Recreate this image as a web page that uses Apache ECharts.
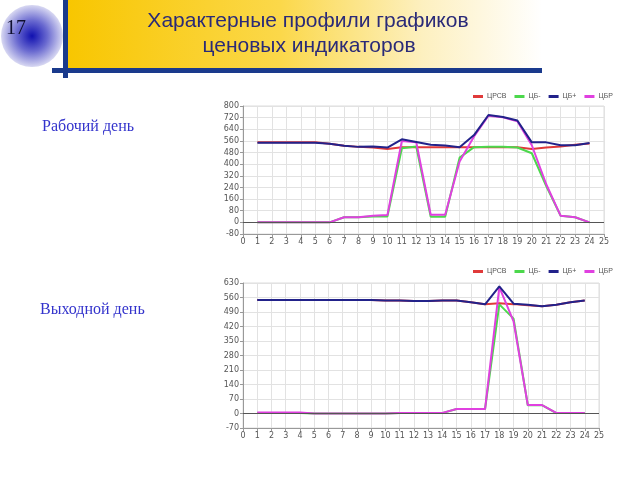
<!DOCTYPE html>
<html><head><meta charset="utf-8">
<script src="https://cdn.jsdelivr.net/npm/echarts@6/dist/echarts.min.js"></script>
<style>html,body{margin:0;padding:0;background:#fff}#c{width:640px;height:480px}</style>
</head><body><div id="c"></div>
<script>
const hours = [1,2,3,4,5,6,7,8,9,10,11,12,13,14,15,16,17,18,19,20,21,22,23,24];
const seriesNames = ['ЦРСВ','ЦБ-','ЦБ+','ЦБР'];
const seriesColors = ['#e03a3a','#4cd84c','#22228a','#e040e0'];
// Workday (Рабочий день)
const workCRSV = [550,550,550,550,550,540,526,519,515,505,517,517,517,517,517,517,517,517,517,505,514,521,533,542];
const workCBminus = [0,0,0,0,0,0,35,35,40,40,510,521,39,39,445,517,520,520,515,475,250,45,35,0];
const workCBplus = [548,548,548,548,548,540,526,519,522,514,571,553,533,528,517,600,738,725,700,550,550,530,530,545];
const workCBR = [0,0,0,0,0,0,35,35,45,50,560,550,52,52,418,590,733,722,695,530,262,45,35,0];
// Weekend (Выходной день)
const wkndCRSV = [548,548,548,548,548,548,548,548,548,546,546,543,543,545,545,537,527,532,528,522,518,525,537,545];
const wkndCBminus = [2,2,2,2,0,0,0,0,0,0,2,2,2,2,22,22,22,527,458,40,40,2,2,2];
const wkndCBplus = [548,548,548,548,548,548,548,548,548,546,546,543,543,545,545,537,527,614,530,525,518,525,537,545];
const wkndCBR = [5,5,5,5,0,0,0,0,0,0,3,3,3,3,22,22,22,610,445,41,41,3,3,3];
const workTicks = {min:-80,max:800,interval:80};
const wkndTicks = {min:-70,max:630,interval:70};

const chart = echarts.init(document.getElementById('c'));
function pairs(arr){return hours.map((h,i)=>[h,arr[i]]);}
function mkSeries(name, data, gi, color, z, withZero){
  const s = {name, type:'line', xAxisIndex:gi, yAxisIndex:gi, data:pairs(data), symbol:'none',
    lineStyle:{width:2,color}, itemStyle:{color}, z, animation:false};
  if(withZero){
    s.markLine = {silent:true, symbol:'none', label:{show:false}, lineStyle:{color:'#555',width:1,type:'solid'}, data:[{yAxis:0}], animation:false};
  }
  return s;
}
const xAx = gi => ({type:'value', gridIndex:gi, min:0, max:25, interval:1,
  axisLine:{onZero:false, lineStyle:{color:'#999'}}, axisTick:{length:3, lineStyle:{color:'#999'}},
  axisLabel:{fontSize:8, color:'#555', margin:4, fontFamily:'DejaVu Sans'},
  splitLine:{show:true, lineStyle:{color:'#e2e2e2'}}});
const yAx = (gi,t) => ({type:'value', gridIndex:gi, min:t.min, max:t.max, interval:t.interval,
  axisLine:{show:true, lineStyle:{color:'#999'}}, axisTick:{show:true, length:3, lineStyle:{color:'#999'}},
  axisLabel:{fontSize:8, color:'#555', margin:4, fontFamily:'DejaVu Sans'},
  splitLine:{show:true, lineStyle:{color:'#e2e2e2'}}});

const option = {
  animation:false,
  grid:[{left:243, right:36, top:106, bottom:246, show:true, borderColor:'#ddd', borderWidth:1},
        {left:243, right:41, top:283, bottom:52, show:true, borderColor:'#ddd', borderWidth:1}],
  xAxis:[xAx(0), xAx(1)],
  yAxis:[yAx(0,workTicks), yAx(1,wkndTicks)],
  legend:[
    {data:seriesNames, left:468, top:88, icon:'rect', itemWidth:10, itemHeight:3, itemGap:8,
      textStyle:{fontSize:7, color:'#555', padding:[0,0,0,-1]}},
    {data:seriesNames, left:468, top:263, icon:'rect', itemWidth:10, itemHeight:3, itemGap:8,
      textStyle:{fontSize:7, color:'#555', padding:[0,0,0,-1]}}
  ],
  series:[
    mkSeries('ЦРСВ', workCRSV, 0, seriesColors[0], 2, true),
    mkSeries('ЦБ-', workCBminus, 0, seriesColors[1], 3),
    mkSeries('ЦБР', workCBR, 0, seriesColors[3], 4),
    mkSeries('ЦБ+', workCBplus, 0, seriesColors[2], 5),
    mkSeries('ЦРСВ', wkndCRSV, 1, seriesColors[0], 2, true),
    mkSeries('ЦБ-', wkndCBminus, 1, seriesColors[1], 3),
    mkSeries('ЦБР', wkndCBR, 1, seriesColors[3], 4),
    mkSeries('ЦБ+', wkndCBplus, 1, seriesColors[2], 5)
  ],
  graphic:[
    {type:'rect', shape:{x:66, y:0, width:476, height:69}, z:1,
      style:{fill:new echarts.graphic.LinearGradient(0,0,1,0,[
        {offset:0,color:'#f8c600'},{offset:0.45,color:'#fbd84a'},{offset:0.75,color:'#fdf0c0'},{offset:1,color:'#ffffff'}])}},
    {type:'rect', shape:{x:63, y:0, width:5, height:78}, z:3, style:{fill:'#1a3a8c'}},
    {type:'rect', shape:{x:52, y:68, width:490, height:5}, z:3, style:{fill:'#1a3a8c'}},
    {type:'circle', shape:{cx:32, cy:36, r:31}, z:2,
      style:{fill:new echarts.graphic.RadialGradient(0.5,0.5,0.5,[
        {offset:0,color:'#1010b0'},{offset:0.5,color:'#6a6ad0'},{offset:1,color:'#d8d8f2'}])}},
    {type:'text', left:6, top:19, z:4, style:{text:'17', font:'20px "Liberation Serif", serif', fill:'#101030'}},
    {type:'text', x:308, y:21, z:4, style:{text:'Характерные профили графиков', font:'21px "Liberation Sans", Arial, sans-serif',
      fill:'#2a2a78', textAlign:'center', textVerticalAlign:'middle', shadowColor:'rgba(0,0,0,0.25)', shadowBlur:2, shadowOffsetX:1, shadowOffsetY:1}},
    {type:'text', x:309, y:46, z:4, style:{text:'ценовых индикаторов', font:'21px "Liberation Sans", Arial, sans-serif',
      fill:'#2a2a78', textAlign:'center', textVerticalAlign:'middle', shadowColor:'rgba(0,0,0,0.25)', shadowBlur:2, shadowOffsetX:1, shadowOffsetY:1}},
    {type:'text', x:42, y:127, z:4, style:{text:'Рабочий день', font:'16px "Liberation Serif", serif', fill:'#3333cc', textVerticalAlign:'middle'}},
    {type:'text', x:40, y:310, z:4, style:{text:'Выходной день', font:'16px "Liberation Serif", serif', fill:'#3333cc', textVerticalAlign:'middle'}}
  ]
};
chart.setOption(option);
</script></body></html>
